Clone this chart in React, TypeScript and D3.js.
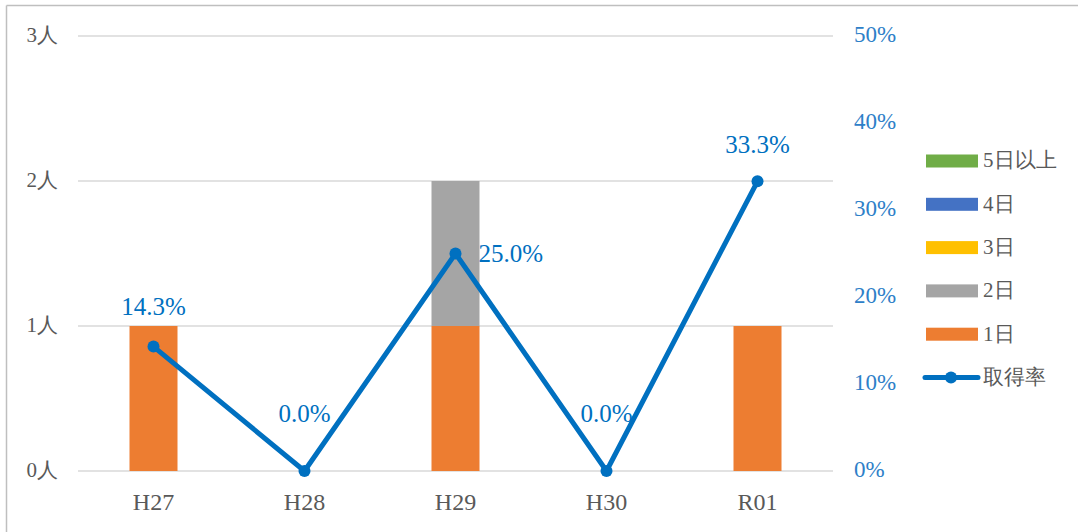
import React from "react";
import * as d3 from "d3";

const categories = ["H27", "H28", "H29", "H30", "R01"];
const day1 = [1, 0, 1, 0, 1];
const day2 = [0, 0, 1, 0, 0];
const day3 = [0, 0, 0, 0, 0];
const day4 = [0, 0, 0, 0, 0];
const day5plus = [0, 0, 0, 0, 0];
const rate = [14.3, 0.0, 25.0, 0.0, 33.3];
const leftTicks = [0, 1, 2, 3];
const rightTicks = [0, 10, 20, 30, 40, 50];
const seriesNames = ["1日", "2日", "3日", "4日", "5日以上"];
const lineName = "取得率";

const colors = ["#ED7D31", "#A5A5A5", "#FFC000", "#4472C4", "#70AD47"];
const lineColor = "#0070C0";

export default function App() {
  const W = 1078, H = 532;
  const left = 78, right = 833, top = 36, bottom = 471;
  const x = d3.scaleBand().domain(categories).range([left, right]).paddingInner(0).paddingOuter(0);
  const yL = d3.scaleLinear().domain([0, 3]).range([bottom, top]);
  const yR = d3.scaleLinear().domain([0, 50]).range([bottom, top]);
  const barW = 48;

  const rows = categories.map((c, i) => ({ c, s0: day1[i], s1: day2[i], s2: day3[i], s3: day4[i], s4: day5plus[i] }));
  const stack = d3.stack<any>().keys(["s0", "s1", "s2", "s3", "s4"])(rows);

  const cx = (c: string) => (x(c) as number) + x.bandwidth() / 2;
  const line = d3.line<number>().x((_, i) => cx(categories[i])).y((d) => yR(d));

  const serif = "'Liberation Serif', 'DejaVu Serif', serif";
  const labelDy = [-40, -58, 0, -58, -37];
  const labelDx = [0, 0, 23, 0, 0];

  const legendItems = [...seriesNames.map((n, i) => ({ n, color: colors[i], i })).reverse()];
  const legendY0 = 161, legendStep = 43.3;

  return (
    <svg width={W} height={H} style={{ position: "absolute", left: 0, top: 0, background: "#fff", fontFamily: serif }}>
      <rect x={0} y={0} width={W} height={H} fill="#fff" />
      <line x1={6.5} y1={5.5} x2={W} y2={5.5} stroke="#BFBFBF" strokeWidth={1.5} />
      <line x1={6.5} y1={5.5} x2={6.5} y2={H} stroke="#BFBFBF" strokeWidth={1.5} />
      {leftTicks.map((t) => (
        <g key={"g" + t}>
          <line x1={left} x2={right} y1={yL(t)} y2={yL(t)} stroke="#D9D9D9" strokeWidth={1.5} />
          <text x={58} y={yL(t) - 1} dy="0.35em" textAnchor="end" fontSize={21} fill="#595959">{t}人</text>
        </g>
      ))}
      {rightTicks.map((t) => (
        <text key={"r" + t} x={854} y={yR(t) - 2} dy="0.35em" fontSize={23} fill="#2E80C8">{t}%</text>
      ))}
      {stack.map((s, si) =>
        s.map((d, i) =>
          d[1] - d[0] > 0 ? (
            <rect key={si + "-" + i} x={cx(categories[i]) - barW / 2} y={yL(d[1])} width={barW} height={yL(d[0]) - yL(d[1])} fill={colors[si]} />
          ) : null
        )
      )}
      {categories.map((c) => (
        <text key={"x" + c} x={cx(c)} y={510} textAnchor="middle" fontSize={24} fill="#595959">{c}</text>
      ))}
      <path d={line(rate) as string} fill="none" stroke={lineColor} strokeWidth={5} strokeLinejoin="round" />
      {rate.map((v, i) => (
        <circle key={"p" + i} cx={cx(categories[i])} cy={yR(v)} r={6} fill={lineColor} />
      ))}
      {rate.map((v, i) => (
        <text key={"l" + i} x={cx(categories[i]) + labelDx[i]} y={yR(v) + labelDy[i]} dy="0.35em"
          textAnchor={labelDx[i] > 0 ? "start" : "middle"} fontSize={25} fill={lineColor}>{v.toFixed(1)}%</text>
      ))}
      {legendItems.map((it, k) => (
        <g key={"lg" + it.n}>
          <rect x={926} y={legendY0 + k * legendStep - 6.5} width={52} height={13} fill={it.color} />
          <text x={983} y={legendY0 + k * legendStep - 1} dy="0.35em" fontSize={21} fill="#595959">{it.n}</text>
        </g>
      ))}
      <g>
        <line x1={925} x2={978} y1={legendY0 + 5 * legendStep} y2={legendY0 + 5 * legendStep} stroke={lineColor} strokeWidth={5} strokeLinecap="round" />
        <circle cx={951} cy={legendY0 + 5 * legendStep} r={6} fill={lineColor} />
        <text x={983} y={legendY0 + 5 * legendStep - 1} dy="0.35em" fontSize={21} fill="#595959">{lineName}</text>
      </g>
    </svg>
  );
}
